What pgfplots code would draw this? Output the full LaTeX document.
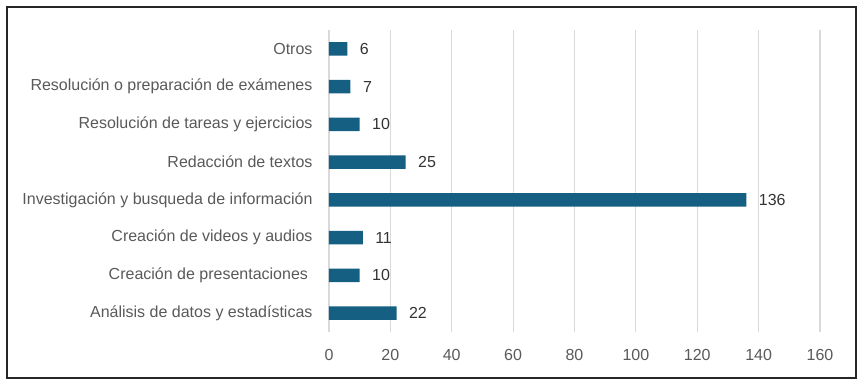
\documentclass[border=0pt]{standalone}
\usepackage{pgfplots}
\pgfplotsset{compat=1.18}
\usepackage{fontspec}
\setmainfont{Liberation Sans}
\definecolor{barc}{HTML}{156082}
\definecolor{txt}{HTML}{595959}
\definecolor{gridc}{HTML}{D9D9D9}
\begin{document}
\begin{tikzpicture}[x=1pt,y=1pt]
\path (-329,-55) rectangle (535,332);
\begin{axis}[
  at={(0,0)}, anchor=south west,
  scale only axis, width=491pt, height=302pt,
  xbar, bar width=13.5pt,
  xmin=0, xmax=160, ymin=-0.5, ymax=7.5,
  xtick={0,20,...,160},
  ytick={0,...,7},
  yticklabels={An\'alisis de datos y estad\'isticas, Creaci\'on de presentaciones\hspace*{4.5pt}, Creaci\'on de videos y audios, Investigaci\'on y busqueda de informaci\'on, Redacci\'on de textos, Resoluci\'on de tareas y ejercicios, Resoluci\'on o preparaci\'on de ex\'amenes, Otros},
  axis line style={draw=none},
  major tick length=0pt,
  xmajorgrids=true, ymajorgrids=false,
  grid style={draw=gridc, line width=1.2pt},
  tick label style={font=\fontsize{16}{19}\selectfont, text=txt},
  /pgf/number format/assume math mode=true,
  xticklabel style={yshift=-14pt},
  yticklabel style={xshift=-13pt},
  nodes near coords,
  nodes near coords style={font=\fontsize{16}{19}\selectfont, text=black!80, anchor=west, xshift=9pt},
]
\addplot[fill=barc, draw=none] coordinates {(22,0) (10,1) (11,2) (136,3) (25,4) (10,5) (7,6) (6,7)};
\end{axis}
\draw[line width=1.2pt, black!85] (-322,-46) rectangle (527,325);
\end{tikzpicture}
\end{document}
